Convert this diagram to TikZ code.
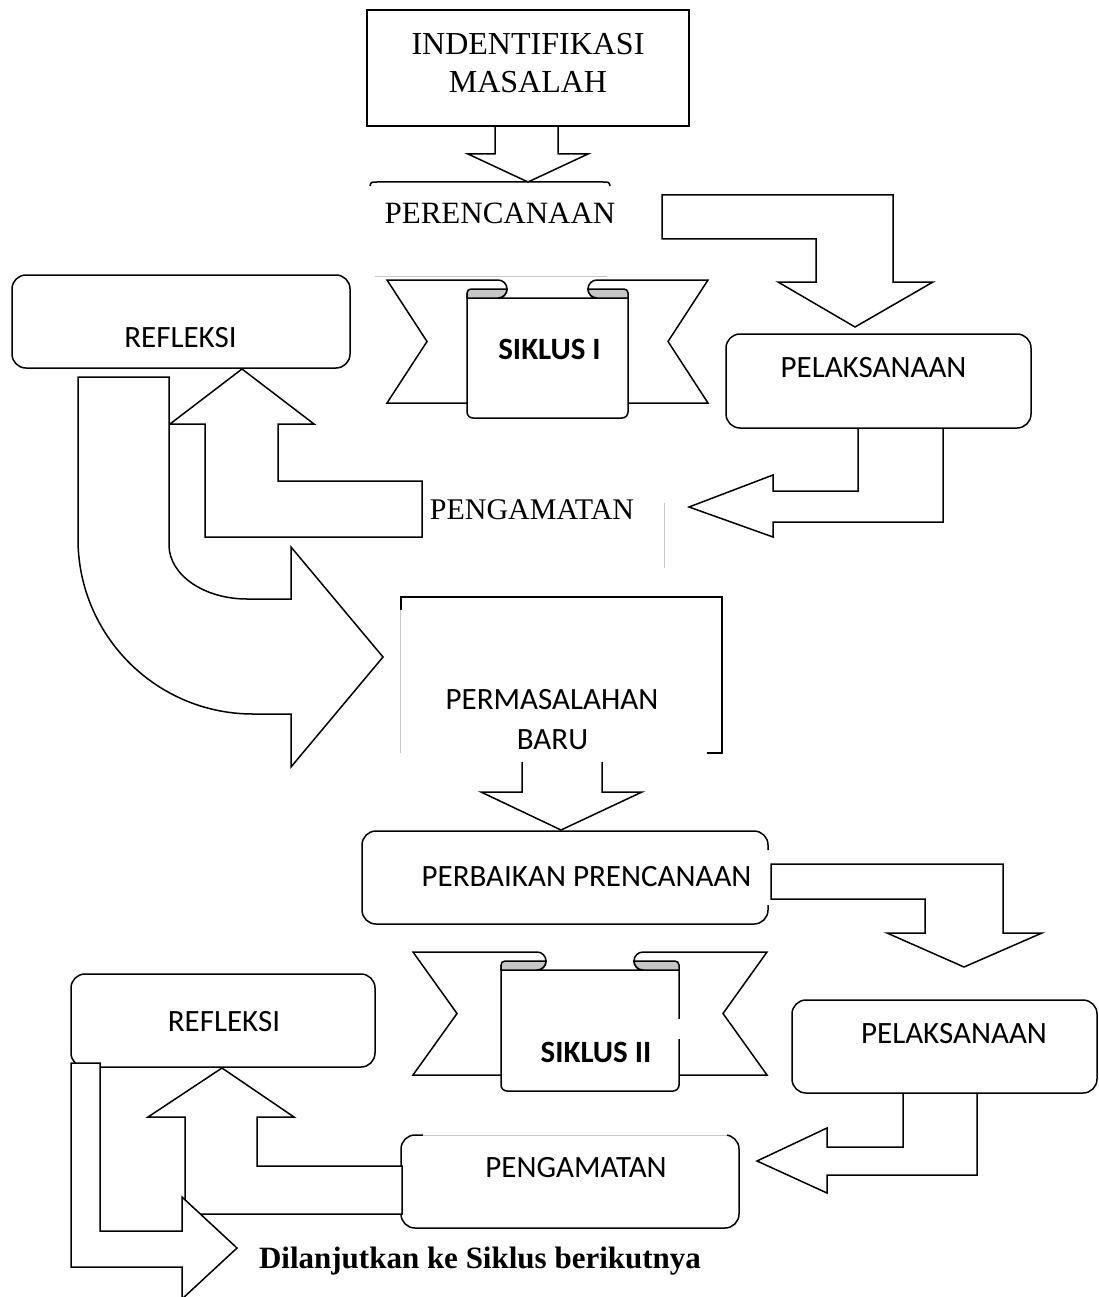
\documentclass[tikz,border=0pt]{standalone}
\usepackage{fontspec}
\setmainfont{Liberation Serif}
\newfontfamily\calibri{Carlito}

\begin{document}
\begin{tikzpicture}[x=1pt, y=-1pt,
  line width=1.5pt, line join=miter,
  box/.style={draw, line width=1.5pt, inner sep=0pt},
  rbox/.style={box, rounded corners=14pt},
  serif/.style={inner sep=0pt, anchor=base, font=\fontsize{31}{37}\selectfont},
  sans/.style={inner sep=0pt, anchor=base, font=\calibri\fontsize{31}{37}\selectfont},
  blockarrow/.style={draw, fill=white, line width=1.5pt},
  faint/.style={draw=black!22, line width=0.9pt},
  curl/.style={draw, fill=black!22, line width=1.5pt}
]
\useasboundingbox (0,0) rectangle (1098,1297);

% Boxes
\node[box, minimum width=322, minimum height=116] (idbox) at (528,68) {};
\node[rbox, minimum width=338, minimum height=93] (refl1) at (181,321.5) {};
\node[rbox, minimum width=305, minimum height=94] (pel1) at (878.5,381) {};
\node[rbox, minimum width=305, minimum height=93] (pel2) at (944.5,1046.5) {};
\node[rbox, minimum width=338, minimum height=93] (peng2) at (570,1181.5) {};
\node[rbox, minimum width=304, minimum height=93] (refl2) at (223,1020.5) {};

% half-visible frames
\draw (370,186) .. controls (371,182) .. (377,182) -- (603,182) .. controls (609,182) .. (610,186);
\draw[faint] (375,276) -- (607,276);
\draw (401,610) -- (401,597) -- (722,597) -- (722,753) -- (707,753);
\draw[faint] (400,610) -- (400,753);
\draw[faint] (664,503) -- (664,568);
\draw[rounded corners=14pt] (768,850) -- (768,831) -- (362,831) -- (362,924) -- (768,924) -- (768,905);
\draw[white, line width=2.4pt] (423,1135) -- (727,1135);
\draw[faint] (423,1135) -- (727,1135);

% Ribbons
\foreach \tl/\tr/\tt/\tb/\pl/\pr/\pb/\cw/\nd in {387/708/280/403/467/628/418/40/40, 413/767/952/1075/501/679/1091/45/44}{
  \pgfmathsetmacro\mid{(\tt+\tb)/2}
  \draw (\pl,\tb) -- (\tl,\tb) -- (\tl+\nd,\mid) -- (\tl,\tt) -- (\pl+\cw-9,\tt)
    arc[start angle=-90, end angle=90, radius=9] -- (\pr-\cw+9,\tt+18)
    arc[start angle=90, end angle=270, radius=9] -- (\tr,\tt) -- (\tr-\nd,\mid) -- (\tr,\tb) -- (\pr,\tb);
  \draw[rounded corners=6pt] (\pl,\tt+13) -- (\pl,\pb) -- (\pr,\pb) -- (\pr,\tt+13);
  \draw[curl] (\pl,\tt+18) -- (\pl,\tt+13) arc[start angle=180, end angle=270, radius=4]
    -- (\pl+\cw,\tt+9) arc[start angle=0, end angle=90, radius=9] -- cycle;
  \draw[curl] (\pr,\tt+18) -- (\pr,\tt+13) arc[start angle=0, end angle=-90, radius=4]
    -- (\pr-\cw,\tt+9) arc[start angle=180, end angle=90, radius=9] -- cycle;
}
\draw[white, line width=2.6pt] (679,1019) -- (679,1039);

% Block arrows, first cycle
\draw (495,126) -- (495,154) -- (468,154) -- (528,182) -- (588,154) -- (558,154) -- (558,126);
\draw[blockarrow] (662,195) -- (893,195) -- (893,282) -- (933,282) -- (855,327) -- (778,282)
  -- (816,282) -- (816,239) -- (662,239) -- cycle;
\draw (858,428) -- (858,491) -- (773,491) -- (773,475) -- (689,507) -- (773,537) -- (773,522)
  -- (943,522) -- (943,428);
\draw[blockarrow] (422,481) -- (278,481) -- (278,424) -- (314,424) -- (242,369) -- (170,424)
  -- (205,424) -- (205,537) -- (422,537) -- cycle;
\draw[blockarrow] (78,377) -- (169,377) -- (169,545)
  arc[start angle=180, end angle=90, x radius=78, y radius=54] -- (291,599) -- (291,547)
  -- (383,657) -- (291,767) -- (291,714) -- (253,714)
  arc[start angle=90, end angle=180, radius=175] -- cycle;

% Block arrows, second cycle
\draw (522,762) -- (522,792) -- (481,792) -- (561,830) -- (642,792) -- (602,792) -- (602,762);
\draw[blockarrow] (771,864) -- (1003,864) -- (1003,933) -- (1042,933) -- (964,967) -- (887,933)
  -- (925,933) -- (925,899) -- (771,899) -- cycle;
\draw (903,1093) -- (903,1147) -- (827,1147) -- (827,1128) -- (757,1161) -- (827,1193)
  -- (827,1175) -- (977,1175) -- (977,1093);
\draw[blockarrow] (402,1166) -- (257,1166) -- (257,1117) -- (294,1117) -- (222,1068) -- (148,1117)
  -- (185,1117) -- (185,1214) -- (402,1214) -- cycle;
\draw[blockarrow] (71,1063) -- (100,1063) -- (100,1231) -- (182,1231) -- (182,1197) -- (237,1248)
  -- (182,1299) -- (182,1267) -- (71,1267) -- cycle;

% Texts
\node[serif, font=\fontsize{32}{38}\selectfont] (idt1) at (528,55) {INDENTIFIKASI};
\node[serif, font=\fontsize{32}{38}\selectfont] (idt2) at (528,93) {MASALAH};
\node[serif] (pert) at (500,224) {PERENCANAAN};
\node[sans] (refl1t) at (180.5,347) {REFLEKSI};
\node[sans, font=\calibri\bfseries\fontsize{31}{37}\selectfont] (sik1) at (549.5,359) {SIKLUS I};
\node[sans] (pel1t) at (873.5,377) {PELAKSANAAN};
\node[serif, font=\fontsize{30}{36}\selectfont] (peng1t) at (532,519) {PENGAMATAN};
\node[sans] (perm1) at (552,709) {PERMASALAHAN};
\node[sans] (perm2) at (552.5,749) {BARU};
\node[sans] (perbt) at (586.5,886) {PERBAIKAN PRENCANAAN};
\node[sans] (refl2t) at (224,1031) {REFLEKSI};
\node[sans, font=\calibri\bfseries\fontsize{31}{37}\selectfont] (sik2) at (596,1062) {SIKLUS II};
\node[sans] (pel2t) at (954,1043) {PELAKSANAAN};
\node[sans] (peng2t) at (576,1177) {PENGAMATAN};
\node[serif, font=\bfseries\fontsize{31}{37}\selectfont] (lanjut) at (480,1268) {Dilanjutkan ke Siklus berikutnya};
\end{tikzpicture}
\end{document}
